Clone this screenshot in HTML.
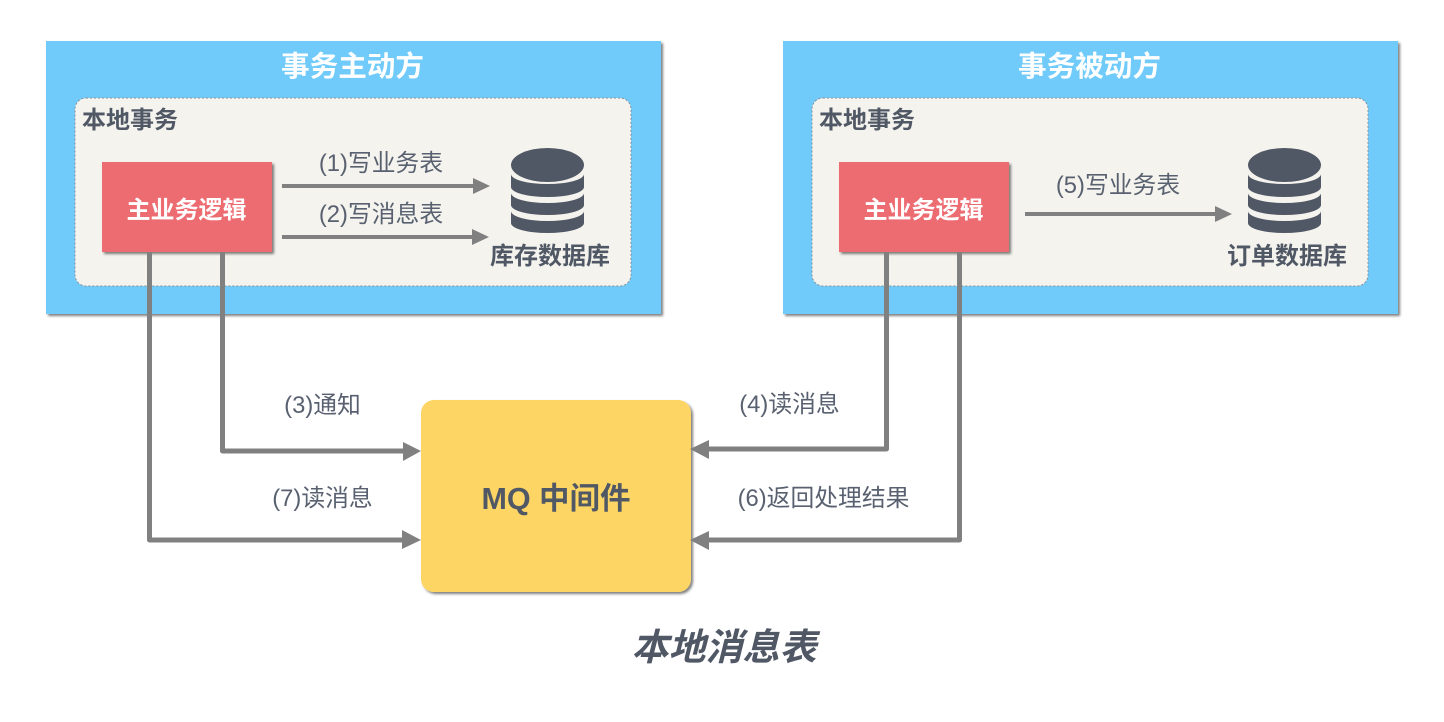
<!DOCTYPE html>
<html lang="zh">
<head>
<meta charset="utf-8">
<title>本地消息表</title>
<style>
html,body{margin:0;padding:0;background:#fff;width:1444px;height:722px;overflow:hidden}
svg{display:block}
text{font-family:"Liberation Sans","Noto Sans CJK SC",sans-serif;fill:#515865}
.b{font-weight:700}
.w{fill:#fff}
.l{font-size:23.8px;fill:#596170;font-weight:400}
.line{fill:none;stroke:#808080;stroke-linejoin:round;stroke-linecap:butt}
.head{fill:#808080}
</style>
</head>
<body>
<svg width="1444" height="722" viewBox="0 0 1444 722" xmlns="http://www.w3.org/2000/svg">
<defs>
<filter id="s" x="-5%" y="-5%" width="110%" height="110%">
<feDropShadow dx="2" dy="2" stdDeviation="1.2" flood-color="#000" flood-opacity=".5"/>
</filter>
<g id="db" fill="#515865">
<ellipse cx="0" cy="0" rx="36.500" ry="17"/>
<path d="M-36.500 9V22A36.500 10 0 0 0 36.500 22V9A36.500 10 0 0 1 -36.500 9Z"/>
<path d="M-36.500 28V40A36.500 10 0 0 0 36.500 40V28A36.500 10 0 0 1 -36.500 28Z"/>
<path d="M-36.500 46V58A36.500 10 0 0 0 36.500 58V46A36.500 10 0 0 1 -36.500 46Z"/>
</g>
</defs>

<!-- Left panel -->
<rect x="46" y="41" width="615" height="273" fill="#6fcbfa" filter="url(#s)"/>
<rect x="75" y="98" width="556" height="188" rx="11" fill="#f4f3ee" stroke="#8a8f94" stroke-width="1" stroke-dasharray="2 2"/>
<text x="352.500" y="76" text-anchor="middle" class="b w" font-size="28.6">事务主动方</text>
<text x="82" y="128" class="b" font-size="24">本地事务</text>
<rect x="102" y="162" width="170" height="90" fill="#ed6c72" filter="url(#s)"/>
<text x="186.500" y="218" text-anchor="middle" class="b w" font-size="24">主业务逻辑</text>
<text x="381" y="171" text-anchor="middle" class="l">(1)写业务表</text>
<path class="line" stroke-width="4" d="M282 186H474"/>
<path class="head" d="M473 178L490 186L473 194Z"/>
<text x="381" y="222" text-anchor="middle" class="l">(2)写消息表</text>
<path class="line" stroke-width="4" d="M282 237H473"/>
<path class="head" d="M472 229L489 237L472 245Z"/>
<use href="#db" x="547.500" y="165"/>
<text x="550" y="264" text-anchor="middle" class="b" font-size="24">库存数据库</text>

<!-- Right panel -->
<rect x="783" y="41" width="615" height="273" fill="#6fcbfa" filter="url(#s)"/>
<rect x="812" y="98" width="556" height="188" rx="11" fill="#f4f3ee" stroke="#8a8f94" stroke-width="1" stroke-dasharray="2 2"/>
<text x="1089.500" y="76" text-anchor="middle" class="b w" font-size="28.6">事务被动方</text>
<text x="819" y="128" class="b" font-size="24">本地事务</text>
<rect x="839" y="162" width="170" height="90" fill="#ed6c72" filter="url(#s)"/>
<text x="923.500" y="218" text-anchor="middle" class="b w" font-size="24">主业务逻辑</text>
<text x="1118" y="193" text-anchor="middle" class="l">(5)写业务表</text>
<path class="line" stroke-width="4" d="M1025 214H1216"/>
<path class="head" d="M1215 206L1232 214L1215 222Z"/>
<use href="#db" x="1284.500" y="165"/>
<text x="1287" y="264" text-anchor="middle" class="b" font-size="24">订单数据库</text>

<!-- MQ -->
<rect x="421" y="400" width="270" height="192" rx="13" fill="#fcd565" filter="url(#s)"/>
<text x="556" y="509" text-anchor="middle" class="b" font-size="30.5">MQ 中间件</text>

<!-- Connectors -->
<path class="line" stroke-width="5" d="M222.500 252V451H404"/>
<path class="head" d="M403 442L421 451L403 461Z"/>
<path class="line" stroke-width="5" d="M149.500 252V540H403"/>
<path class="head" d="M402 530L421 540L402 549Z"/>
<path class="line" stroke-width="5" d="M886.500 252V449H708"/>
<path class="head" d="M709 440L690 449L709 459Z"/>
<path class="line" stroke-width="5" d="M959.500 252V540H708"/>
<path class="head" d="M709 531L690 540L709 550Z"/>

<text x="322.500" y="413" text-anchor="middle" class="l">(3)通知</text>
<text x="322.500" y="506" text-anchor="middle" class="l">(7)读消息</text>
<text x="789.500" y="412" text-anchor="middle" class="l">(4)读消息</text>
<text x="823.500" y="506" text-anchor="middle" class="l">(6)返回处理结果</text>

<text x="724" y="660" text-anchor="middle" class="b" font-size="37" font-style="italic">本地消息表</text>
</svg>
</body>
</html>
